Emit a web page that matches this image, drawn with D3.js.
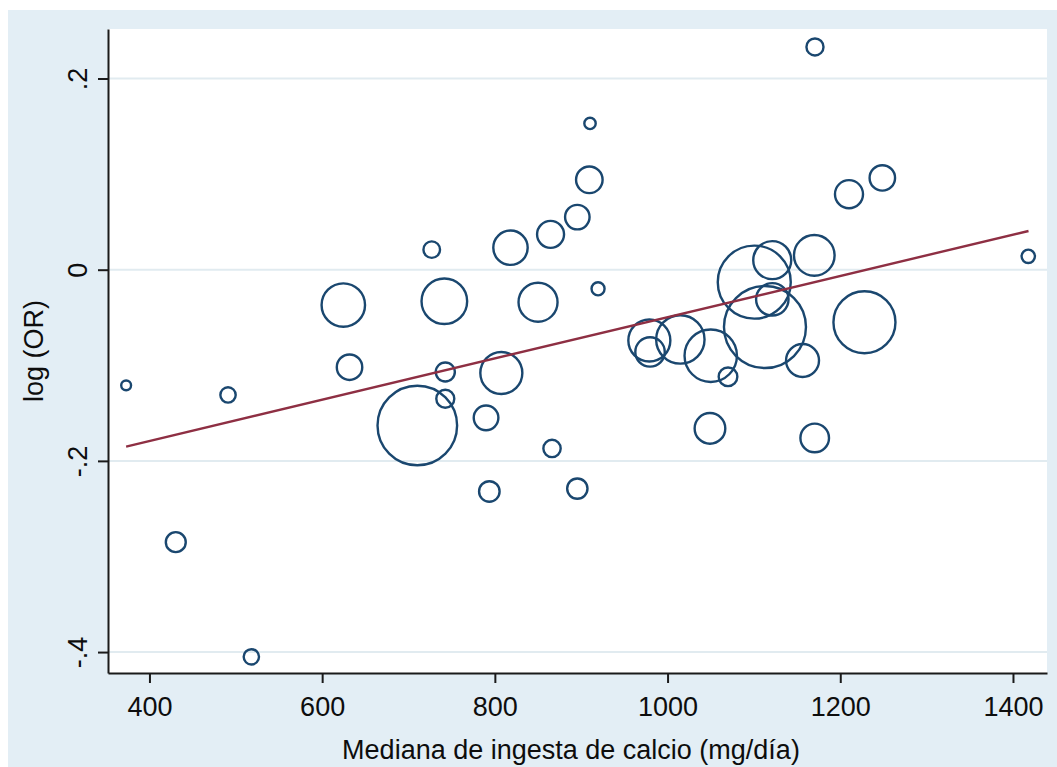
<!DOCTYPE html>
<html>
<head>
<meta charset="utf-8">
<script src="https://cdn.jsdelivr.net/npm/d3@7"></script>
<style>
  html, body { margin: 0; padding: 0; background: #ffffff; }
  svg { display: block; }
  text { font-family: "Liberation Sans", Arial, sans-serif; fill: #0d0d0d; }
</style>
</head>
<body>
<svg id="chart" width="1057" height="767"></svg>
<script>
// Median calcium intake per study (mg/day)
const intake = [373, 491, 430.5, 518, 624.5, 631.7, 726.9, 741.5, 742.6, 742.6,
  710.2, 807.5, 789.8, 866.2, 818.1, 864.5, 895.5, 850, 919.5, 793.6,
  895.5, 910.2, 909.4, 1170.7, 1248.7, 1210.1, 1417.7, 1169.9, 1121.2, 1100.4,
  1121.3, 1112.8, 1228, 1156.3, 978.9, 979.7, 1014.8, 1050, 1070, 1049.1, 1170.4];

// log odds ratio per study
const logOR = [-0.121, -0.131, -0.285, -0.405, -0.037, -0.102, 0.021, -0.033, -0.107, -0.135,
  -0.163, -0.108, -0.155, -0.187, 0.023, 0.037, 0.055, -0.034, -0.020, -0.232,
  -0.229, 0.153, 0.094, 0.233, 0.096, 0.079, 0.014, 0.015, 0.010, -0.013,
  -0.031, -0.060, -0.055, -0.095, -0.074, -0.086, -0.073, -0.090, -0.112, -0.166, -0.176];

// study weights (bubble area)
const weight = [1.2, 2.9, 4.9, 2.9, 23.3, 8.0, 3.4, 25.7, 4.5, 4.0,
  78.2, 21.8, 7.5, 3.7, 14.6, 9.0, 7.4, 18.8, 2.1, 5.2,
  5.1, 1.6, 8.7, 3.6, 8.0, 9.7, 2.2, 20.4, 17.8, 65.8,
  13.0, 83.0, 47.5, 13.4, 21.8, 10.7, 28.9, 33.9, 4.3, 11.6, 10.1];

// fitted meta-regression line, end points
const fitIntake = [373, 1418];
const fitLogOR = [-0.185, 0.0405];

const xTicks = [400, 600, 800, 1000, 1200, 1400];
const yTicks = [-0.4, -0.2, 0, 0.2];
const yTickLabels = ["-.4", "-.2", "0", ".2"];

const xTitle = "Mediana de ingesta de calcio (mg/día)";
const yTitle = "log (OR)";

const svg = d3.select("#chart");
const W = 1057, H = 767;
const plot = { left: 108, top: 29, right: 1047, bottom: 673 };
const FS = 27;

const x = d3.scaleLinear().domain([352, 1439.4]).range([plot.left, plot.right]);
const y = d3.scaleLinear().domain([-0.4219, 0.2518]).range([plot.bottom, plot.top]);
const r = d3.scaleSqrt().domain([0, 100]).range([0, 45]);

// graph region background
svg.append("rect").attr("x", 8).attr("y", 10).attr("width", W - 8).attr("height", H - 10)
  .attr("fill", "#e3eef5");
// plot region
svg.append("rect").attr("x", plot.left).attr("y", plot.top)
  .attr("width", plot.right - plot.left).attr("height", plot.bottom - plot.top)
  .attr("fill", "#ffffff");

// horizontal grid lines
svg.append("g").selectAll("line").data(yTicks).join("line")
  .attr("x1", plot.left).attr("x2", plot.right)
  .attr("y1", d => y(d)).attr("y2", d => y(d))
  .attr("stroke", "#e1ebf0").attr("stroke-width", 2);

// bubbles
svg.append("g").selectAll("circle").data(intake.map((v, i) => ({ x: v, y: logOR[i], w: weight[i] })))
  .join("circle")
  .attr("cx", d => x(d.x)).attr("cy", d => y(d.y)).attr("r", d => r(d.w))
  .attr("fill", "none").attr("stroke", "#1a476f").attr("stroke-width", 2.4);

// fitted line
svg.append("path")
  .datum(fitIntake.map((v, i) => [v, fitLogOR[i]]))
  .attr("d", d3.line().x(d => x(d[0])).y(d => y(d[1])))
  .attr("fill", "none").attr("stroke", "#8e2f43").attr("stroke-width", 2.4);

// x axis
const gx = svg.append("g").attr("transform", `translate(0,${plot.bottom})`)
  .call(d3.axisBottom(x).tickValues(xTicks).tickFormat(d3.format("d")).tickSize(10).tickPadding(14).tickSizeOuter(0));
gx.select(".domain").attr("stroke", "#1a1a1a").attr("stroke-width", 2);
gx.selectAll(".tick line").attr("stroke", "#1a1a1a").attr("stroke-width", 2);
gx.selectAll(".tick text").attr("font-size", FS).attr("font-family", null).attr("fill", null);

// y axis with rotated labels
const gy = svg.append("g").attr("transform", `translate(${plot.left},0)`)
  .call(d3.axisLeft(y).tickValues(yTicks).tickFormat((d, i) => yTickLabels[i]).tickSize(10).tickSizeOuter(0));
gy.select(".domain").attr("stroke", "#1a1a1a").attr("stroke-width", 2);
gy.selectAll(".tick line").attr("stroke", "#1a1a1a").attr("stroke-width", 2);
gy.selectAll(".tick text")
  .attr("font-size", FS).attr("font-family", null).attr("fill", null)
  .attr("x", null).attr("dy", null).attr("text-anchor", "middle")
  .attr("transform", "translate(-21,0) rotate(-90)");

// axis titles
svg.append("text").attr("x", 571).attr("y", 759).attr("text-anchor", "middle")
  .attr("font-size", FS).text(xTitle);
svg.append("text").attr("transform", `translate(43,${(plot.top + plot.bottom) / 2}) rotate(-90)`)
  .attr("text-anchor", "middle").attr("font-size", FS).text(yTitle);
</script>
</body>
</html>
